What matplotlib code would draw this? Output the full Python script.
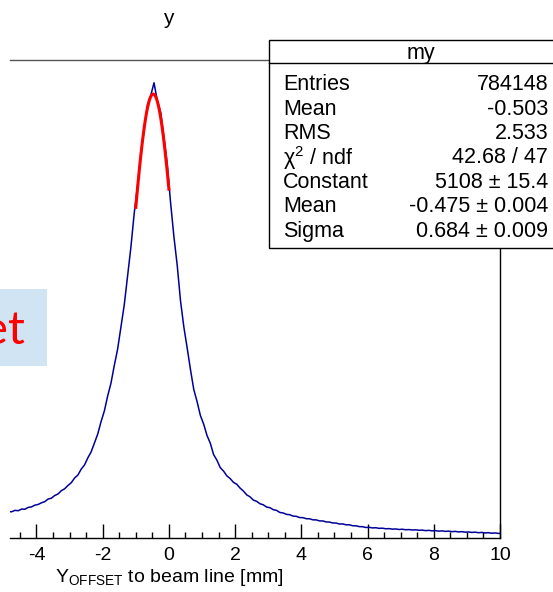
import numpy as np
import matplotlib
matplotlib.use("Agg")
import matplotlib.pyplot as plt
from matplotlib.patches import Rectangle
from matplotlib.lines import Line2D
from matplotlib.ticker import MultipleLocator

W, H = 553, 592

# histogram "my", counts per 0.1 wide bin
bin_lo = -4.8
bin_hi = 10.0
counts_left = [
	302, 318, 314, 333, 331, 352, 358, 378, 386, 405,
	418, 448, 458, 489, 506, 544, 566, 604, 636, 690,
	724, 792, 840, 922, 990, 1092, 1196, 1338, 1462, 1634,
	1782, 1985, 2172, 2430, 2680, 3010, 3340, 3730, 4050, 4420,
	4690, 4980, 5090, 5238, 5030, 4900, 4610, 4300,
]
counts_right = [
	3860, 3470, 3140, 2730, 2430, 2190, 1940, 1710, 1570, 1410,
	1310, 1180, 1090, 960, 895, 810, 770, 715, 684, 640,
	618, 574, 540, 496, 474, 436, 422, 394, 382, 356,
	349, 326, 318, 294, 288, 272, 268, 252, 249, 235,
	234, 222, 221, 209, 208, 197, 196, 185, 183, 173,
	172, 161, 162, 152, 152, 141, 140, 131, 130, 121,
	123, 116, 118, 111, 113, 106, 108, 102, 104, 98,
	101, 95, 97, 92, 94, 89, 91, 85, 88, 82,
	85, 79, 82, 76, 79, 73, 76, 70, 73, 67,
	70, 64, 67, 61, 64, 58, 61, 55, 58, 53,
]
counts = counts_left + counts_right

# gaussian fit, parameters as printed in the stats box
fit_const = 5108
fit_mean = -0.475
fit_sigma = 0.684
fit_lo = -1.0
fit_hi = 0.0

stat_title = "my"
stat_names = ["Entries", "Mean", "RMS", "\u03c7$^{2}$ / ndf", "Constant", "Mean", "Sigma"]
stat_values = ["784148", "-0.503", "2.533", "42.68 / 47",
	"5108 \u00b1 15.4", "-0.475 \u00b1 0.004", "0.684 \u00b1 0.009"]

xticks = [-4, -2, 0, 2, 4, 6, 8, 10]


def fx(p):
	return p / W

def fy(p):
	return 1 - p / H


plt.rcParams['font.family'] = ['Liberation Sans', 'DejaVu Sans']
plt.rcParams['mathtext.fontset'] = 'custom'
plt.rcParams['mathtext.rm'] = 'Liberation Sans'
plt.rcParams['mathtext.it'] = 'Liberation Sans:italic'
plt.rcParams['axes.unicode_minus'] = False

fig = plt.figure(figsize=(W / 100, H / 100), dpi=100)
fig.patch.set_facecolor('white')

ax = fig.add_axes([fx(10), fy(538), (500 - 10) / W, (538 - 60) / H])

# fine binned in the original, so it reads as a jagged line
edges = np.linspace(bin_lo, bin_hi, len(counts) + 1)
centers = 0.5 * (edges[:-1] + edges[1:])
xs = np.concatenate([[bin_lo], centers, [bin_hi]])
ys = np.concatenate([[counts[0]], counts, [counts[-1]]])
ax.plot(xs, ys, color='#000099', lw=1.1)

xf = np.linspace(fit_lo, fit_hi, 100)
yf = fit_const * np.exp(-0.5 * ((xf - fit_mean) / fit_sigma) ** 2)
ax.plot(xf, yf, color='red', lw=2.2)

ax.set_xlim(bin_lo, bin_hi)
ax.set_ylim(0, 5500)

ax.spines['left'].set_visible(False)
ax.spines['top'].set_color('#555555')
for s in ['top', 'right', 'bottom']:
	ax.spines[s].set_linewidth(1)

ax.set_yticks([])
ax.set_xticks(xticks)
ax.xaxis.set_minor_locator(MultipleLocator(0.5))
ax.tick_params(axis='x', which='major', direction='in', length=10, width=1,
	labelsize=14, pad=6.5)
ax.tick_params(axis='x', which='minor', direction='in', length=4.3, width=1)

fig.text(fx(55), fy(578), r'Y$_{\rm OFFSET}$ to beam line [mm]',
	ha='left', va='center', fontsize=14)
fig.text(fx(168), fy(18), 'y', ha='center', va='center', fontsize=15)

# stats box, cut off by the right edge of the screenshot
box = Rectangle((fx(269), fy(248)), (570 - 269) / W, (248 - 40) / H,
	transform=fig.transFigure, facecolor='white', edgecolor='black', lw=1, zorder=5)
fig.add_artist(box)
fig.add_artist(Line2D([fx(269), fx(570)], [fy(63), fy(63)],
	transform=fig.transFigure, color='black', lw=1, zorder=6))
fig.text(fx(421), fy(51), stat_title, ha='center', va='center_baseline',
	fontsize=15.5, zorder=7)

row_y = [82, 107, 131, 155, 180, 204, 229]
for name, val, yy in zip(stat_names, stat_values, row_y):
	fig.text(fx(283), fy(yy), name, ha='left', va='center_baseline',
		fontsize=15.5, zorder=7)
	fig.text(fx(548), fy(yy), val, ha='right', va='center_baseline',
		fontsize=15.5, zorder=7)

# slide overlay at the left
fig.add_artist(Rectangle((0, fy(366)), 47 / W, (366 - 289) / H,
	transform=fig.transFigure, facecolor='#d0e4f4', edgecolor='none', zorder=8))
fig.text(fx(25), fy(344), 'et', ha='right', va='baseline', color='red',
	fontsize=34, family=['Lato', 'DejaVu Sans'], zorder=9)

fig.savefig('out.png', dpi=100)
